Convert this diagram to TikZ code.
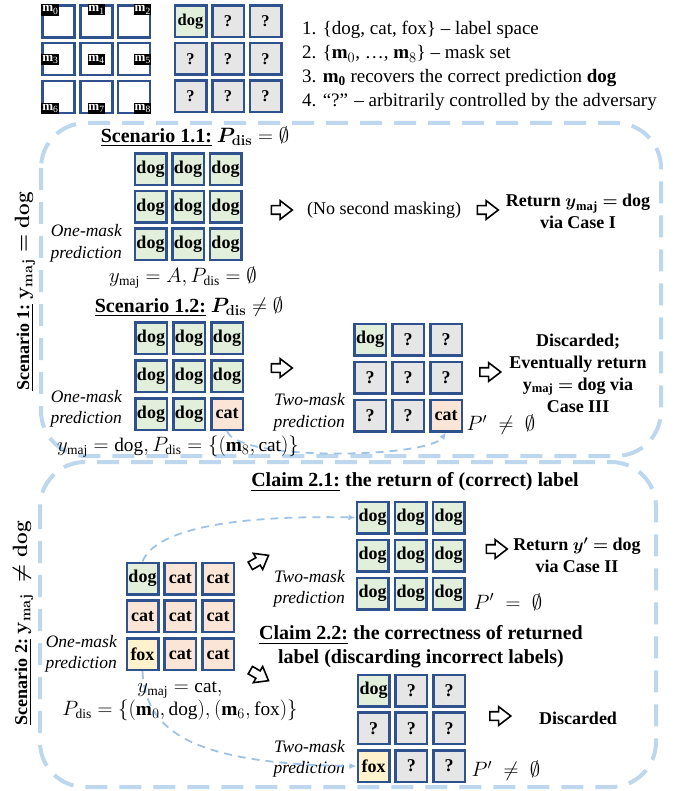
\documentclass[tikz,border=0pt]{standalone}
\usepackage{amsmath,amssymb}
\usepackage{fontspec}
\setmainfont{Liberation Serif}
\usetikzlibrary{shapes.arrows,arrows.meta}

\definecolor{cellborder}{HTML}{2F528F}
\definecolor{dogfill}{HTML}{E2EFDA}
\definecolor{catfill}{HTML}{FBE5D6}
\definecolor{foxfill}{HTML}{FFF2CC}
\definecolor{qfill}{HTML}{E7E6E6}
\definecolor{boxblue}{HTML}{BDD7EE}
\definecolor{linkblue}{HTML}{9DC3E6}

% 3x3 grid of prediction cells: [extra options]{name}{x of first centre}{y of first centre}{pitch}{fill/text list}
\newcommand\mkgrid[6][]{%
  \foreach \st/\tx [count=\k from 0] in {#6} {
    \pgfmathtruncatemacro\gr{\k/3}
    \pgfmathtruncatemacro\gc{\k-3*\gr}
    \node[cell,fill=\st,#1] (#2\gr\gc) at ({#3+\gc*#5},{#4+\gr*#5}) {\tx};
  }}
% white mask tag m_i
\newcommand\masktag[1]{m\raisebox{-2.5pt}{\fontsize{9.5}{9.5}\selectfont\mdseries #1}}

\begin{document}
\begin{tikzpicture}[x=1pt,y=-1pt,
  every node/.style={font=\fontsize{18}{21.5}\selectfont, inner sep=0pt},
  cell/.style={draw=cellborder, line width=2.5pt, minimum size=31.5pt,
    font=\fontsize{18}{18}\selectfont\bfseries},
  mlab/.style={fill=black, text=white, font=\fontsize{13}{13}\selectfont\bfseries,
    inner xsep=0.8pt, inner ysep=1.2pt},
  harrow/.style={shape=single arrow, draw=black, fill=white, line width=1.6pt,
    inner xsep=0pt, inner ysep=3.5pt, minimum height=21pt,
    single arrow head extend=5pt, single arrow tip angle=75},
  groupbox/.style={draw=boxblue, line width=4pt, dash pattern=on 22pt off 12pt,
    rounded corners=45pt},
  link/.style={draw=linkblue, line width=1.8pt, dash pattern=on 8pt off 6pt,
    -{Latex[length=7pt,width=6pt]}},
  legend/.style={anchor=west, font=\fontsize{19}{19}\selectfont},
  title/.style={font=\fontsize{20}{24}\selectfont\bfseries, align=center},
  side/.style={rotate=90, font=\fontsize{18}{18}\selectfont\bfseries},
  mnote/.style={font=\fontsize{17.5}{21.5}\selectfont\itshape, align=right, anchor=east},
  result/.style={font=\fontsize{18}{22}\selectfont\bfseries, align=center},
  plain/.style={font=\fontsize{18}{21.5}\selectfont, align=center},
  mathlab/.style={font=\fontsize{19.3}{23}\selectfont, align=center}]

\useasboundingbox (0,0) rectangle (693,791);

% ---------- scenario frames ----------
\draw[groupbox] (41,123) rectangle (661,456);
\draw[groupbox] (40,462) rectangle (656,787);

% ---------- legend: mask set ----------
\foreach \r in {0,1,2} \foreach \c in {0,1,2}
  \node[cell, fill=white, minimum size=32pt] (mk\r\c) at ({58.5+37.75*\c},{21.5+37.75*\r}) {};
\node[mlab, anchor=north west] (ml0) at (mk00.north west) {\masktag{0}};
\node[mlab, anchor=north]      (ml1) at (mk01.north)      {\masktag{1}};
\node[mlab, anchor=north east] (ml2) at (mk02.north east) {\masktag{2}};
\node[mlab, anchor=west]       (ml3) at (mk10.west)       {\masktag{3}};
\node[mlab]                    (ml4) at (mk11.center)     {\masktag{4}};
\node[mlab, anchor=east]       (ml5) at (mk12.east)       {\masktag{5}};
\node[mlab, anchor=south west] (ml6) at (mk20.south west) {\masktag{6}};
\node[mlab, anchor=south]      (ml7) at (mk21.south)      {\masktag{7}};
\node[mlab, anchor=south east] (ml8) at (mk22.south east) {\masktag{8}};

% ---------- legend: adversarial predictions ----------
\mkgrid[font=\fontsize{16.5}{16.5}\selectfont\bfseries]{lq}{190.5}{21.5}{37.5}%
  {dogfill/dog, qfill/?, qfill/?, qfill/?, qfill/?, qfill/?, qfill/?, qfill/?, qfill/?}

\node[legend] (lg1) at (302,30)  {1. \{dog, cat, fox\} -- label space};
\node[legend] (lg2) at (302,54)  {2. \{$\mathbf{m}_0$, …, $\mathbf{m}_8$\} -- mask set};
\node[legend] (lg3) at (302,78)  {3. $\mathbf{m_0}$ recovers the correct prediction \textbf{dog}};
\node[legend] (lg4) at (302,102) {4. ``?'' -- arbitrarily controlled by the adversary};

% ---------- scenario 1 ----------
\node[side] (sc1) at (25,291) {\underline{Scenario 1:} {\fontsize{22}{22}\selectfont\boldmath$\mathbf{y}_{\mathbf{maj}} = \mathbf{dog}$}};

% scenario 1.1
\node[title] (t11) at (195,137) {\underline{Scenario 1.1:} {\boldmath$P_{\mathbf{dis}}$}$\;=\emptyset$};
\mkgrid{sa}{150.5}{169.5}{37.5}%
  {dogfill/dog, dogfill/dog, dogfill/dog, dogfill/dog, dogfill/dog, dogfill/dog, dogfill/dog, dogfill/dog, dogfill/dog}
\node[mnote] (om1) at (122,243.5) {One-mask\\prediction};
\node[mathlab] (ma1) at (183,278) {$y_{\mathrm{maj}} = A, P_{\mathrm{dis}} = \emptyset$};
\node[harrow] (a11) at (279,210) {};
\node[plain] (nsm) at (384,210) {(No second masking)};
\node[harrow] (a12) at (485,210) {};
\node[result] (r11) at (578,211) {Return $\boldsymbol{y}_{\mathbf{maj}}\boldsymbol{=}$ dog\\via Case I};

% scenario 1.2
\node[title] (t12) at (189,307) {\underline{Scenario 1.2:} {\boldmath$P_{\mathbf{dis}}$}$\;\neq\emptyset$};
\mkgrid{sb}{151}{338}{38}%
  {dogfill/dog, dogfill/dog, dogfill/dog, dogfill/dog, dogfill/dog, dogfill/dog, dogfill/dog, dogfill/dog, catfill/cat}
\node[mnote] (om2) at (122,409) {One-mask\\prediction};
\node[harrow] (a13) at (279,368) {};
\node[mnote] (tm1) at (345,412.5) {Two-mask\\prediction};
\mkgrid{sc}{370}{339.5}{38}%
  {dogfill/dog, qfill/?, qfill/?, qfill/?, qfill/?, qfill/?, qfill/?, qfill/?, catfill/cat}
\node[harrow] (a14) at (487.5,372) {};
\node[result] (r12) at (578,373) {Discarded;\\Eventually return\\$\mathbf{y}_{\mathbf{maj}}\boldsymbol{=}$ dog via\\Case III};
\node[mathlab] (pp1) at (501,425) {$P'\;\neq\;\emptyset$};
\draw[link] (sb22.south) .. controls (238,462) and (428,458) .. (sc22.south);
\node[mathlab] (ma2) at (178,447) {$y_{\mathrm{maj}} = \mathrm{dog}, P_{\mathrm{dis}} = \{(\mathbf{m}_8, \mathrm{cat})\}$};

% ---------- scenario 2 ----------
\node[side] (sc2) at (23,623) {\underline{Scenario 2:} {\fontsize{22}{22}\selectfont\boldmath$\mathbf{y}_{\mathbf{maj}}\ \neq \mathbf{dog}$}};

\mkgrid{se}{142.5}{578.5}{37.8}%
  {dogfill/dog, catfill/cat, catfill/cat, catfill/cat, catfill/cat, catfill/cat, foxfill/fox, catfill/cat, catfill/cat}
\node[mnote] (om3) at (117,654) {One-mask\\prediction};

% claim 2.1
\node[title] (t21) at (415,482) {\underline{Claim 2.1:} the return of (correct) label};
\node[harrow, rotate=30] (a21) at (257,562) {};
\node[mnote] (tm2) at (345,589) {Two-mask\\prediction};
\mkgrid{sd}{372.5}{517.5}{38}%
  {dogfill/dog, dogfill/dog, dogfill/dog, dogfill/dog, dogfill/dog, dogfill/dog, dogfill/dog, dogfill/dog, dogfill/dog}
\node[harrow] (a22) at (494,549) {};
\node[result] (r21) at (577,555.5) {Return $\boldsymbol{y'}\boldsymbol{=}$ dog\\via Case II};
\node[mathlab] (pp2) at (508,602) {$P'\;=\;\emptyset$};

% claim 2.2
\node[title] (t22) at (421,647) {\underline{Claim 2.2:} the correctness of returned\\label (discarding incorrect labels)};
\node[harrow, rotate=-30] (a23) at (257,674) {};
\node[mnote] (tm3) at (345,759) {Two-mask\\prediction};
\mkgrid{sf}{373.5}{690.5}{37.8}%
  {dogfill/dog, qfill/?, qfill/?, qfill/?, qfill/?, qfill/?, foxfill/fox, qfill/?, qfill/?}
\node[harrow] (a24) at (497.5,716) {};
\node[result] (r22) at (578,718) {Discarded};
\node[mathlab] (pp3) at (506,771) {$P'\;\neq\;\emptyset$};

% links from the one-mask cells to the two-mask cells
\draw[link] (se00.north) .. controls (155,530) and (230,515) .. (sd00.west);
\draw[link] (se20.south) .. controls (145,730) and (190,764) .. (sf20.west);
\node[mathlab] (ma3) at (180,701.5) {$y_{\mathrm{maj}} = \mathrm{cat},$\\$P_{\mathrm{dis}} = \{(\mathbf{m}_0, \mathrm{dog}), (\mathbf{m}_6, \mathrm{fox})\}$};

\end{tikzpicture}
\end{document}
